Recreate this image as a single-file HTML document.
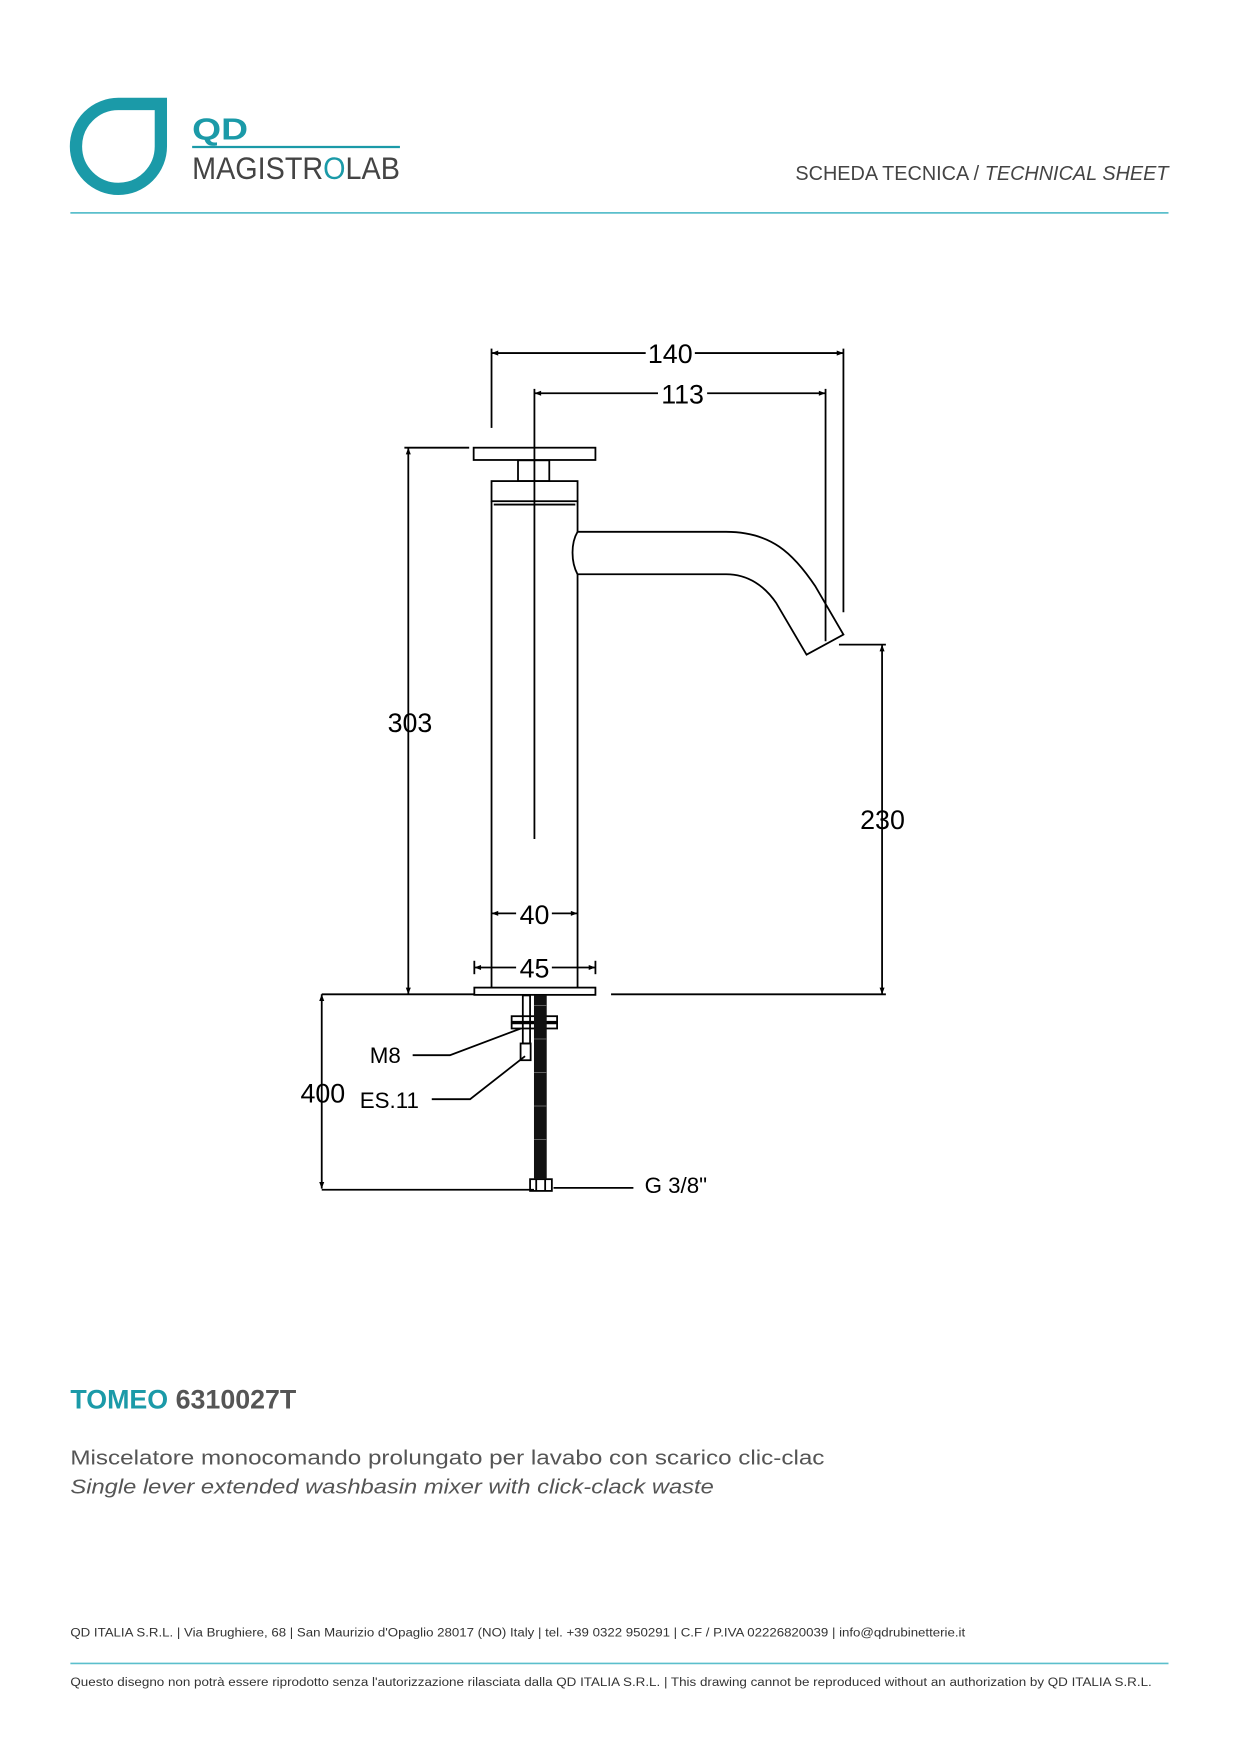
<!DOCTYPE html>
<html><head><meta charset="utf-8"><style>
html,body{margin:0;padding:0;background:#fff;}
svg{display:block;}
</style></head><body>
<svg width="1240" height="1754" viewBox="0 0 1110 1570" xmlns="http://www.w3.org/2000/svg" font-family="Liberation Sans, sans-serif">
<defs>
<marker id="a" viewBox="0 0 12 10" refX="12" refY="5" markerWidth="12" markerHeight="5" orient="auto-start-reverse" markerUnits="userSpaceOnUse"><path d="M0,0.5 L12,5 L0,9.5 Z" fill="#000"/></marker>
</defs>
<!-- Header -->
<path d="M106,93 L144,93 L144,131 A38,38 0 1 1 106,93 Z" fill="none" stroke="#1b9aa8" stroke-width="11"/>
<text x="172" y="125" font-size="27" font-weight="bold" fill="#1b9aa8" textLength="50" lengthAdjust="spacingAndGlyphs">QD</text>
<line x1="172" y1="131.5" x2="358" y2="131.5" stroke="#1b9aa8" stroke-width="2"/>
<text x="172" y="160" font-size="28" fill="#444" textLength="186" lengthAdjust="spacingAndGlyphs">MAGISTR<tspan fill="#1b9aa8">O</tspan>LAB</text>
<text x="1046" y="161" font-size="18" fill="#444" text-anchor="end" textLength="334" lengthAdjust="spacingAndGlyphs">SCHEDA TECNICA / <tspan font-style="italic">TECHNICAL SHEET</tspan></text>
<line x1="63" y1="190.5" x2="1046" y2="190.5" stroke="#5bbfcc" stroke-width="1.5"/>

<g stroke="#000" stroke-width="1.6" fill="none">
<rect x="424" y="400.7" width="109" height="11"/>
<rect x="463.7" y="412" width="28" height="18.6"/>
<rect x="440" y="430.6" width="77" height="18"/>
<line x1="442" y1="451.6" x2="515" y2="451.6"/>
<line x1="440" y1="448.6" x2="440" y2="884"/>
<line x1="517" y1="448.6" x2="517" y2="476"/>
<line x1="517" y1="514" x2="517" y2="884"/>
<rect x="424.6" y="884" width="108.4" height="6.5"/>
<path d="M517,476 L650,476 C690,476 710,495 730,525 L755,568 L722,586 L695,540 C685,525 670,514 650,514 L517,514"/>
<path d="M517,476 C511,486 511,503 517,514"/>
<line x1="440" y1="316" x2="755" y2="316" marker-start="url(#a)" marker-end="url(#a)"/>
<line x1="440" y1="312" x2="440" y2="383"/>
<line x1="755" y1="312" x2="755" y2="548"/>
<line x1="478.4" y1="352" x2="739" y2="352" marker-start="url(#a)" marker-end="url(#a)"/>
<line x1="478.4" y1="348" x2="478.4" y2="751"/>
<line x1="739" y1="348" x2="739" y2="574"/>
<line x1="365.5" y1="400.7" x2="365.5" y2="890" marker-start="url(#a)" marker-end="url(#a)"/>
<line x1="362" y1="400.7" x2="420" y2="400.7"/>
<line x1="288" y1="890" x2="424" y2="890"/>
<line x1="789.6" y1="577" x2="789.6" y2="890" marker-start="url(#a)" marker-end="url(#a)"/>
<line x1="751" y1="577" x2="793" y2="577"/>
<line x1="547" y1="890" x2="793" y2="890"/>
<line x1="440" y1="817.6" x2="517" y2="817.6" marker-start="url(#a)" marker-end="url(#a)"/>
<line x1="424.6" y1="866" x2="533" y2="866" marker-start="url(#a)" marker-end="url(#a)"/>
<line x1="424.6" y1="860" x2="424.6" y2="872"/>
<line x1="533" y1="860" x2="533" y2="872"/>
<line x1="288" y1="890" x2="288" y2="1064" marker-start="url(#a)" marker-end="url(#a)"/>
<line x1="288" y1="1065" x2="478" y2="1065"/>
<rect x="468" y="891" width="6.5" height="43"/>
<rect x="466" y="934" width="9" height="15"/>
<rect x="458" y="909.6" width="40.7" height="5"/>
<rect x="458" y="916" width="40.7" height="4.6"/>
<rect x="474.5" y="1055.5" width="19.5" height="10.5"/>
<line x1="480" y1="1055.5" x2="480" y2="1066"/>
<line x1="488" y1="1055.5" x2="488" y2="1066"/>
<polyline points="369.4,944.5 402.8,944.5 466.2,920.6"/>
<polyline points="386.5,983.9 420.8,983.9 470,945.4"/>
<line x1="495.5" y1="1063.3" x2="567" y2="1063.3"/>
</g>
<rect x="478" y="891" width="11.4" height="164.5" fill="#111"/>
<g stroke="#fff" stroke-width="0.6" opacity="0.5">
<line x1="478" y1="900" x2="489" y2="900"/><line x1="478" y1="930" x2="489" y2="930"/><line x1="478" y1="960" x2="489" y2="960"/><line x1="478" y1="990" x2="489" y2="990"/><line x1="478" y1="1020" x2="489" y2="1020"/>
</g>

<g font-size="24" fill="#000" text-anchor="middle">
<rect x="578" y="304" width="44" height="22" fill="#fff"/>
<text x="600" y="325">140</text>
<rect x="589" y="340" width="44" height="22" fill="#fff"/>
<text x="611" y="361">113</text>
<text x="367" y="655">303</text>
<text x="790" y="742">230</text>
<rect x="462" y="807" width="32" height="22" fill="#fff"/>
<text x="478.5" y="827">40</text>
<rect x="462" y="855" width="32" height="22" fill="#fff"/>
<text x="478.5" y="875">45</text>
<text x="289" y="987">400</text>
</g>
<g font-size="20" fill="#000">
<text x="331" y="951.7">M8</text>
<text x="322" y="992">ES.11</text>
<text x="577" y="1068">G 3/8"</text>
</g>

<text x="63" y="1261" font-size="24" font-weight="bold"><tspan fill="#1b9aa8">TOMEO</tspan> <tspan fill="#555">6310027T</tspan></text>
<text x="63" y="1311" font-size="18" fill="#555" textLength="675" lengthAdjust="spacingAndGlyphs">Miscelatore monocomando prolungato per lavabo con scarico clic-clac</text>
<text x="63" y="1337" font-size="18" fill="#555" font-style="italic" textLength="576" lengthAdjust="spacingAndGlyphs">Single lever extended washbasin mixer with click-clack waste</text>
<text x="63" y="1465" font-size="11" fill="#333" textLength="801" lengthAdjust="spacingAndGlyphs">QD ITALIA S.R.L. | Via Brughiere, 68 | San Maurizio d'Opaglio 28017 (NO) Italy | tel. +39 0322 950291 | C.F / P.IVA 02226820039 | info@qdrubinetterie.it</text>
<line x1="63" y1="1489" x2="1046" y2="1489" stroke="#5bbfcc" stroke-width="1.5"/>
<text x="63" y="1509" font-size="11" fill="#333" textLength="968" lengthAdjust="spacingAndGlyphs">Questo disegno non potrà essere riprodotto senza l'autorizzazione rilasciata dalla QD ITALIA S.R.L. | This drawing cannot be reproduced without an authorization by QD ITALIA S.R.L.</text>
</svg>
</body></html>
